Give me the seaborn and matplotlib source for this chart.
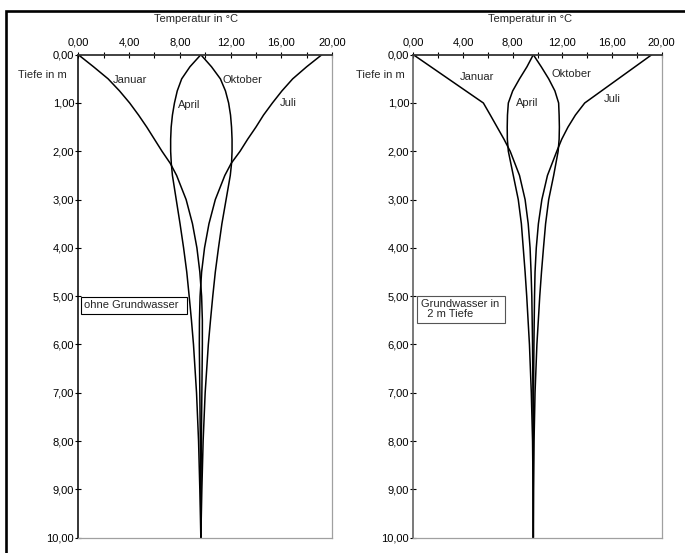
import numpy as np
import pandas as pd
import matplotlib
matplotlib.use("Agg")
import matplotlib.pyplot as plt
import seaborn as sns
from matplotlib.patches import Rectangle

sns.set_style("white")
plt.rcParams['font.family'] = ['Liberation Sans', 'DejaVu Sans']
plt.rcParams['font.size'] = 8

# Tiefen und Temperaturen
monate = ['Januar', 'April', 'Juli', 'Oktober']

# links: ohne Grundwasser
tiefe_links = [0, 0.25, 0.5, 0.75, 1, 1.25, 1.5, 1.75, 2, 2.25, 2.5,
               3, 3.5, 4, 4.5, 5, 5.5, 6, 7, 8, 9, 10]
januar_links = [0.0, 1.2, 2.35, 3.25, 4.05, 4.75, 5.4, 6.0, 6.6, 7.25, 7.75,
                8.5, 9.0, 9.35, 9.58, 9.72, 9.78, 9.78, 9.74, 9.7, 9.67, 9.66]
april_links = [9.66, 8.8, 8.15, 7.8, 7.58, 7.42, 7.32, 7.28, 7.28, 7.33, 7.42,
               7.72, 8.02, 8.3, 8.55, 8.74, 8.92, 9.08, 9.32, 9.48, 9.58, 9.66]
juli_links = [19.2, 18.0, 16.9, 16.05, 15.3, 14.6, 14.0, 13.35, 12.75, 12.05, 11.55,
              10.8, 10.3, 9.95, 9.72, 9.6, 9.55, 9.54, 9.58, 9.62, 9.65, 9.66]
oktober_links = [9.66, 10.5, 11.2, 11.6, 11.85, 12.0, 12.08, 12.12, 12.12, 12.08, 11.98,
                 11.65, 11.32, 11.05, 10.8, 10.6, 10.42, 10.25, 10.0, 9.84, 9.74, 9.66]

# rechts: Grundwasser in 2 m Tiefe
tiefe_rechts = [0, 0.25, 0.5, 0.75, 1, 1.25, 1.5, 1.75, 2, 2.5,
                3, 3.5, 4, 4.5, 5, 6, 7, 8, 9, 10]
januar_rechts = [0.0, 1.41, 2.82, 4.23, 5.64, 6.2, 6.75, 7.3, 7.8, 8.55,
                 9.0, 9.25, 9.4, 9.48, 9.54, 9.6, 9.63, 9.65, 9.66, 9.66]
april_rechts = [9.66, 9.15, 8.55, 8.0, 7.65, 7.58, 7.56, 7.57, 7.65, 8.05,
                8.45, 8.7, 8.85, 9.0, 9.13, 9.35, 9.5, 9.6, 9.64, 9.66]
juli_rechts = [19.2, 17.85, 16.5, 15.15, 13.8, 13.05, 12.45, 11.95, 11.55, 10.8,
               10.35, 10.07, 9.9, 9.8, 9.76, 9.71, 9.68, 9.67, 9.66, 9.66]
oktober_rechts = [9.66, 10.3, 10.9, 11.4, 11.7, 11.74, 11.76, 11.74, 11.66, 11.3,
                  10.9, 10.65, 10.48, 10.32, 10.18, 9.95, 9.8, 9.72, 9.68, 9.66]

x_ticks = [0, 2, 4, 6, 8, 10, 12, 14, 16, 18, 20]
x_ticklabels = ['0,00', '', '4,00', '', '8,00', '', '12,00', '', '16,00', '', '20,00']
y_ticks = [0, 1, 2, 3, 4, 5, 6, 7, 8, 9, 10]
y_ticklabels = ['0,00', '1,00', '2,00', '3,00', '4,00', '5,00',
                '6,00', '7,00', '8,00', '9,00', '10,00']


def long_df(tiefe, reihen):
    rows = []
    for monat, werte in zip(monate, reihen):
        for t, w in zip(tiefe, werte):
            rows.append({'Monat': monat, 'Tiefe': t, 'Temperatur': w})
    return pd.DataFrame(rows)


df_links = long_df(tiefe_links, [januar_links, april_links, juli_links, oktober_links])
df_rechts = long_df(tiefe_rechts, [januar_rechts, april_rechts, juli_rechts, oktober_rechts])

fig = plt.figure(figsize=(6.85, 5.53), dpi=100)
ax1 = fig.add_axes([0.1143, 0.0277, 0.3704, 0.8734])
ax2 = fig.add_axes([0.6034, 0.0277, 0.3626, 0.8734])

# Rahmen um die Grafik (nur links und oben sichtbar)
fig.add_artist(Rectangle((6.2 / 685, -0.1), 1.2, 1.1 - 10.7 / 553,
                         transform=fig.transFigure, fill=False,
                         ec='black', lw=1.9, clip_on=False))


def panel(ax, df, left_color, xlabel_x, tiefe_x, beschriftung):
    sns.lineplot(data=df, x='Temperatur', y='Tiefe', hue='Monat',
                 palette={m: 'black' for m in monate}, estimator=None,
                 orient='y', legend=False, lw=1.1, ax=ax)
    ax.set_xlim(0, 20)
    ax.set_ylim(10, 0)
    ax.xaxis.tick_top()
    ax.xaxis.set_label_position('top')
    ax.set_xticks(x_ticks)
    ax.set_xticklabels(x_ticklabels)
    ax.set_yticks(y_ticks)
    ax.set_yticklabels(y_ticklabels)
    ax.set_xlabel('Temperatur in °C', fontsize=8)
    ax.xaxis.set_label_coords(xlabel_x, 1.068)
    ax.set_ylabel('')
    ax.tick_params(axis='x', direction='inout', length=5, width=0.8,
                   pad=2.5, colors='black', labelsize=8, top=True, bottom=False)
    ax.tick_params(axis='y', direction='inout', length=5, width=0.8,
                   pad=0.5, colors='black', labelsize=8, left=True)
    ax.spines['top'].set_color('#333333')
    ax.spines['top'].set_linewidth(1.3)
    ax.spines['left'].set_color(left_color)
    ax.spines['left'].set_linewidth(1.1)
    ax.spines['right'].set_color('#a0a0a0')
    ax.spines['right'].set_linewidth(0.9)
    ax.spines['bottom'].set_color('#a0a0a0')
    ax.spines['bottom'].set_linewidth(0.9)
    ax.text(tiefe_x, 0.42, 'Tiefe in m', ha='right', va='center',
            transform=ax.get_yaxis_transform(), fontsize=8)
    for text, x, y in beschriftung:
        ax.text(x, y, text, ha='left', va='center', fontsize=8)


panel(ax1, df_links, 'black', 0.464, -0.045,
      [('Januar', 2.75, 0.52), ('April', 7.85, 1.05),
       ('Oktober', 11.4, 0.52), ('Juli', 15.9, 1.0)])
panel(ax2, df_rechts, '#555555', 0.47, -0.034,
      [('Januar', 3.76, 0.46), ('April', 8.27, 1.0),
       ('Oktober', 11.09, 0.4), ('Juli', 15.35, 0.92)])

# Textfelder
ax1.add_patch(Rectangle((0.21, 5.02), 8.35, 0.35, fc='white', ec='black', lw=0.8, zorder=3))
ax1.text(0.45, 5.19, 'ohne Grundwasser', ha='left', va='center', fontsize=8, zorder=4)
ax2.add_patch(Rectangle((0.32, 4.99), 7.09, 0.56, fc='white', ec='#555555', lw=0.8, zorder=3))
ax2.text(0.6, 5.26, 'Grundwasser in\n  2 m Tiefe', ha='left', va='center',
         fontsize=8, linespacing=1.05, zorder=4)

fig.savefig('out.png', dpi=100)
